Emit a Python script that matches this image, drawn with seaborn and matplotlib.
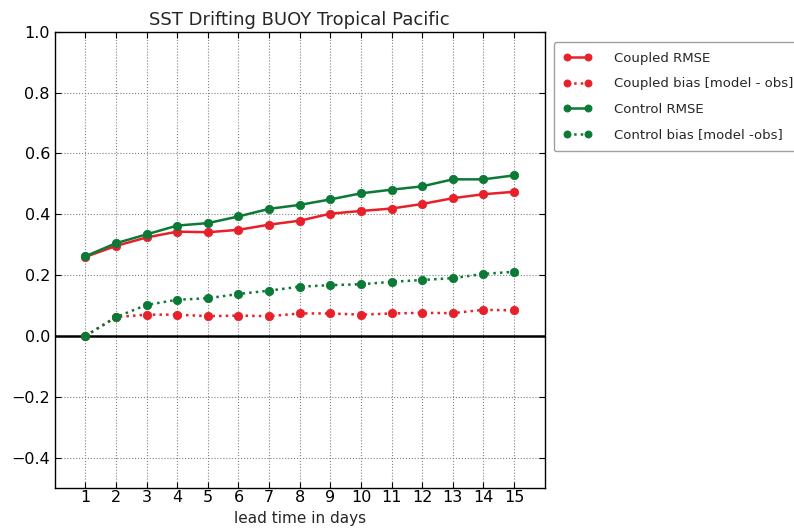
import numpy as np
import pandas as pd
import matplotlib
matplotlib.use("Agg")
import matplotlib.pyplot as plt
import seaborn as sns

lead_days = list(range(1, 16))

coupled_rmse = [0.260, 0.296, 0.324, 0.343, 0.341, 0.349, 0.366, 0.379, 0.402,
                0.411, 0.419, 0.434, 0.453, 0.466, 0.474]
coupled_bias = [0.000, 0.062, 0.070, 0.070, 0.065, 0.067, 0.065, 0.074, 0.074,
                0.070, 0.074, 0.076, 0.075, 0.086, 0.084]
control_rmse = [0.262, 0.305, 0.334, 0.363, 0.371, 0.393, 0.418, 0.431, 0.449,
                0.469, 0.481, 0.492, 0.515, 0.515, 0.528]
control_bias = [0.000, 0.062, 0.102, 0.119, 0.124, 0.138, 0.149, 0.162, 0.167,
                0.170, 0.178, 0.184, 0.190, 0.204, 0.211]

series_labels = ["Coupled RMSE", "Coupled bias [model - obs]",
                 "Control RMSE", "Control bias [model -obs]"]

RED = "#e8202a"
GREEN = "#0b7a36"

sns.set_style("white")
plt.rcParams["font.family"] = ["DejaVu Sans"]

fig = plt.figure(figsize=(7.94, 5.31), dpi=100)
ax = fig.add_axes([0.069, 0.081, 0.617, 0.859])

styles = [
    (coupled_rmse, RED, "-"),
    (coupled_bias, RED, ":"),
    (control_rmse, GREEN, "-"),
    (control_bias, GREEN, ":"),
]
for (vals, color, ls), label in zip(styles, series_labels):
    df = pd.DataFrame({"day": lead_days, "value": vals})
    sns.lineplot(data=df, x="day", y="value", ax=ax, color=color,
                 linestyle=ls, linewidth=1.8, marker="o", markersize=6,
                 markeredgecolor=color, markeredgewidth=0.6, label=label)

ax.axhline(0, color="black", linewidth=1.8, zorder=1)

ax.set_xlim(0, 16)
ax.set_ylim(-0.5, 1.0)
ax.set_xticks(lead_days)
ax.set_yticks(np.arange(-0.4, 1.01, 0.2))
ax.set_yticklabels(["\u22120.4", "\u22120.2", "0.0", "0.2", "0.4", "0.6", "0.8", "1.0"])
ax.tick_params(direction="in", length=4, width=0.8, labelsize=11.5,
               top=True, right=True, bottom=True, left=True, colors="black")
ax.tick_params(axis="x", pad=1.5)
ax.grid(True, linestyle=":", color="#808080", linewidth=0.8)
for s in ax.spines.values():
    s.set_visible(True)
    s.set_color("black")
    s.set_linewidth(1.0)

ax.set_title("SST Drifting BUOY Tropical Pacific", fontsize=13, pad=5)
ax.set_xlabel("lead time in days", fontsize=11, labelpad=4)
ax.set_ylabel("")

leg = ax.legend(loc="upper left", bbox_to_anchor=(1.018, 0.978),
                borderaxespad=0, fontsize=9.5,
                frameon=True, fancybox=True, borderpad=0.75, labelspacing=0.95,
                numpoints=2, markerscale=0.85, handlelength=2.2,
                handletextpad=1.6)
leg.get_frame().set_edgecolor("#888888")
leg.get_frame().set_linewidth(1.0)

fig.savefig("out.png", dpi=100)
